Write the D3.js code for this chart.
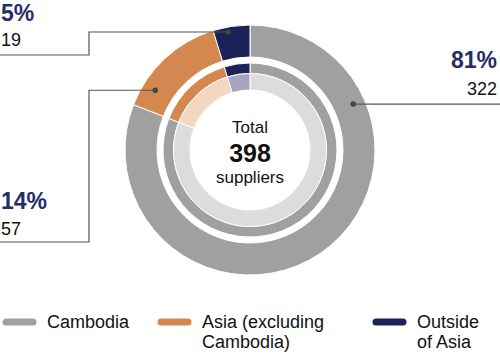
<!DOCTYPE html>
<html><head><meta charset="utf-8">
<script src="https://cdn.jsdelivr.net/npm/d3@7/dist/d3.min.js"></script>
<style>
html,body{margin:0;padding:0;background:#fff;}
svg{display:block;font-family:"Liberation Sans",Arial,Helvetica,sans-serif;}
</style></head><body>
<svg id="c" width="500" height="355"></svg>
<script>
const categories = ["Cambodia", "Asia (excluding Cambodia)", "Outside of Asia"];
const values = [322, 57, 19];
const percents = ["81%", "14%", "5%"];
const legendLines = [["Cambodia"], ["Asia (excluding", "Cambodia)"], ["Outside", "of Asia"]];
const colors = ["#a0a0a0", "#d4884f", "#1c2257"];
const lightColors = ["#dddcdd", "#f4d7c1", "#a7a4c1"];
const total = d3.sum(values);

const svg = d3.select("#c");
const cx = 250, cy = 150;
const g = svg.append("g").attr("transform", `translate(${cx},${cy})`);

const pie = d3.pie().sort(null).value(d => d)(values);

const arcOuter = d3.arc().innerRadius(93).outerRadius(125);
const arcMid = d3.arc().innerRadius(76.5).outerRadius(87);
const arcIn = d3.arc().innerRadius(60).outerRadius(76.5);

g.selectAll("path.o").data(pie).join("path").attr("class","o")
  .attr("d", arcOuter).attr("fill", (d,i)=>colors[i]).attr("stroke","#fff").attr("stroke-width",1);
g.selectAll("path.m").data(pie).join("path").attr("class","m")
  .attr("d", arcMid).attr("fill", (d,i)=>colors[i]).attr("stroke","#fff").attr("stroke-width",1);
g.selectAll("path.i").data(pie).join("path").attr("class","i")
  .attr("d", arcIn).attr("fill", (d,i)=>lightColors[i]).attr("stroke","#fff").attr("stroke-width",1);

// center text
g.append("text").attr("x",0).attr("y",-17.5).attr("text-anchor","middle")
  .attr("font-size",17).attr("fill","#111").text("Total");
g.append("text").attr("x",0).attr("y",12).attr("text-anchor","middle")
  .attr("font-size",25).attr("font-weight","bold").attr("fill","#111").text(total);
g.append("text").attr("x",0).attr("y",33).attr("text-anchor","middle")
  .attr("font-size",17).attr("fill","#111").text("suppliers");

// leader lines
const lineColor = "#555";
function dotPos(i, frac, r){
  const a = pie[i].startAngle + (pie[i].endAngle - pie[i].startAngle)*frac;
  return [cx + r*Math.sin(a), cy - r*Math.cos(a)];
}
const dCam = dotPos(0, 0.2266, 113);
const dAsia = dotPos(1, 0.213, 112);
const dOut = dotPos(2, 0.39, 120);

const leaders = [
  {pts:[dCam,[500,dCam[1]]]},
  {pts:[dAsia,[89,dAsia[1]],[89,242],[0,242]]},
  {pts:[dOut,[89,dOut[1]],[89,55],[0,55]]}
];
const lineGen = d3.line();
svg.selectAll("path.lead").data(leaders).join("path").attr("class","lead")
  .attr("d", d=>lineGen(d.pts)).attr("fill","none").attr("stroke",lineColor).attr("stroke-width",1.2);
svg.selectAll("circle.dot").data([dCam,dAsia,dOut]).join("circle").attr("class","dot")
  .attr("cx",d=>d[0]).attr("cy",d=>d[1]).attr("r",2.8).attr("fill","#444");

// labels
const labels = [
  {x:497, anchor:"end", yP:68, yV:95},
  {x:1, anchor:"start", yP:209, yV:235},
  {x:1, anchor:"start", yP:20.5, yV:46}
];
labels.forEach((l,i)=>{
  svg.append("text").attr("x",l.x).attr("y",l.yP).attr("text-anchor",l.anchor)
    .attr("font-size",23).attr("font-weight","bold").attr("fill","#262c68").text(percents[i]);
  svg.append("text").attr("x",l.x).attr("y",l.yV).attr("text-anchor",l.anchor)
    .attr("font-size",18).attr("fill","#111").text(values[i]);
});

// legend
const legX = [3, 158, 373];
const leg = svg.append("g");
categories.forEach((c,i)=>{
  leg.append("line").attr("x1",legX[i]+3).attr("x2",legX[i]+30).attr("y1",322).attr("y2",322)
    .attr("stroke",colors[i]).attr("stroke-width",7).attr("stroke-linecap","round");
  const t = leg.append("text").attr("x",legX[i]+44).attr("y",328).attr("font-size",18).attr("fill","#111");
  legendLines[i].forEach((ln,j)=>{
    t.append("tspan").attr("x",legX[i]+44).attr("dy", j===0?0:19.5).text(ln);
  });
});
</script>
</body></html>
